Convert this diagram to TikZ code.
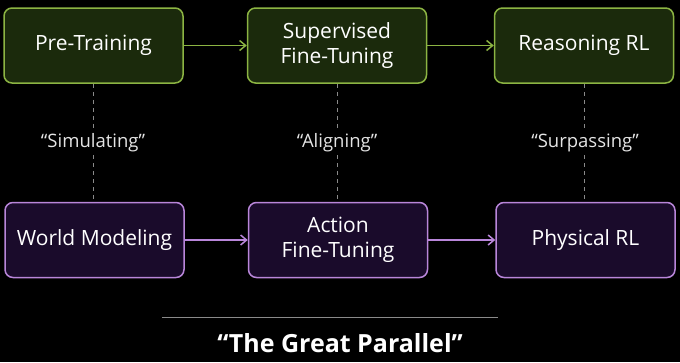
\documentclass[tikz,border=0pt]{standalone}
\usepackage{fontspec}
\setmainfont{Open Sans}
\setsansfont{Open Sans}
\usetikzlibrary{arrows.meta,positioning,calc}
\definecolor{boxgreen}{HTML}{1B2A0C}
\definecolor{bordgreen}{HTML}{8CB443}
\definecolor{boxpurple}{HTML}{1A0B2B}
\definecolor{bordpurple}{HTML}{B986DA}
\definecolor{anncolor}{HTML}{E4E4E4}
\definecolor{dashcolor}{HTML}{8A8A8A}

\begin{document}
\begin{tikzpicture}[
    x=1pt, y=-1pt,
    box/.style={
        rectangle, rounded corners=8pt,
        align=center, font=\sffamily\fontsize{21}{25}\selectfont,
        line width=1.5pt, inner sep=0pt, text=white,
        minimum width=179pt, minimum height=75pt,
    },
    llmbox/.style={box, draw=bordgreen, fill=boxgreen},
    physbox/.style={box, draw=bordpurple, fill=boxpurple},
    arr/.style={-{Straight Barb[length=6pt,width=10pt]}, line width=1.5pt, color=#1},
    link/.style={dashed, dash pattern=on 4pt off 4pt, line width=0.8pt, color=dashcolor},
    verb/.style={font=\sffamily\fontsize{18.5}{22}\selectfont, text=anncolor, inner sep=3pt},
]

% Background and page size
\fill[black] (0,0) rectangle (680,362);
\useasboundingbox (0,0) rectangle (680,362);

% Top row: language model path
\node[llmbox] (pretrain) at (93.5,45.5) {Pre-Training};
\node[llmbox] (sft) at (337,45.5) {Supervised\\Fine-Tuning};
\node[llmbox] (reasonrl) at (584,45.5) {Reasoning RL};

% Bottom row: physical path
\node[physbox] (worldmod) at (94.5,240) {World Modeling};
\node[physbox] (actionft) at (338,240) {Action\\Fine-Tuning};
\node[physbox] (physrl) at (585.5,240) {Physical RL};

% Parallel verbs between the rows
\node[verb] (simul) at (93,143) {“Simulating”};
\node[verb] (align) at (337,143) {“Aligning”};
\node[verb] (surpass) at (585,143) {“Surpassing”};

% Arrows along each row
\draw[arr=bordgreen] (pretrain) -- (sft);
\draw[arr=bordgreen] (sft) -- (reasonrl);
\draw[arr=bordpurple] (worldmod) -- (actionft);
\draw[arr=bordpurple] (actionft) -- (physrl);

% Dashed links through the verbs
\draw[link] (pretrain.south) -- (pretrain.south |- simul.north);
\draw[link] (pretrain.south |- simul.south) -- (pretrain.south |- worldmod.north);
\draw[link] (sft.south) -- (sft.south |- align.north);
\draw[link] (sft.south |- align.south) -- (sft.south |- actionft.north);
\draw[link] (reasonrl.south) -- (reasonrl.south |- surpass.north);
\draw[link] (reasonrl.south |- surpass.south) -- (reasonrl.south |- physrl.north);

% Title
\coordinate (ruleL) at (162,317);
\coordinate (ruleR) at (498,317);
\draw[dashcolor, line width=1pt] (ruleL) -- (ruleR);
\node[font=\sffamily\bfseries\fontsize{25}{30}\selectfont, text=white] (title) at (340,343) {“The Great Parallel”};

\end{tikzpicture}
\end{document}
